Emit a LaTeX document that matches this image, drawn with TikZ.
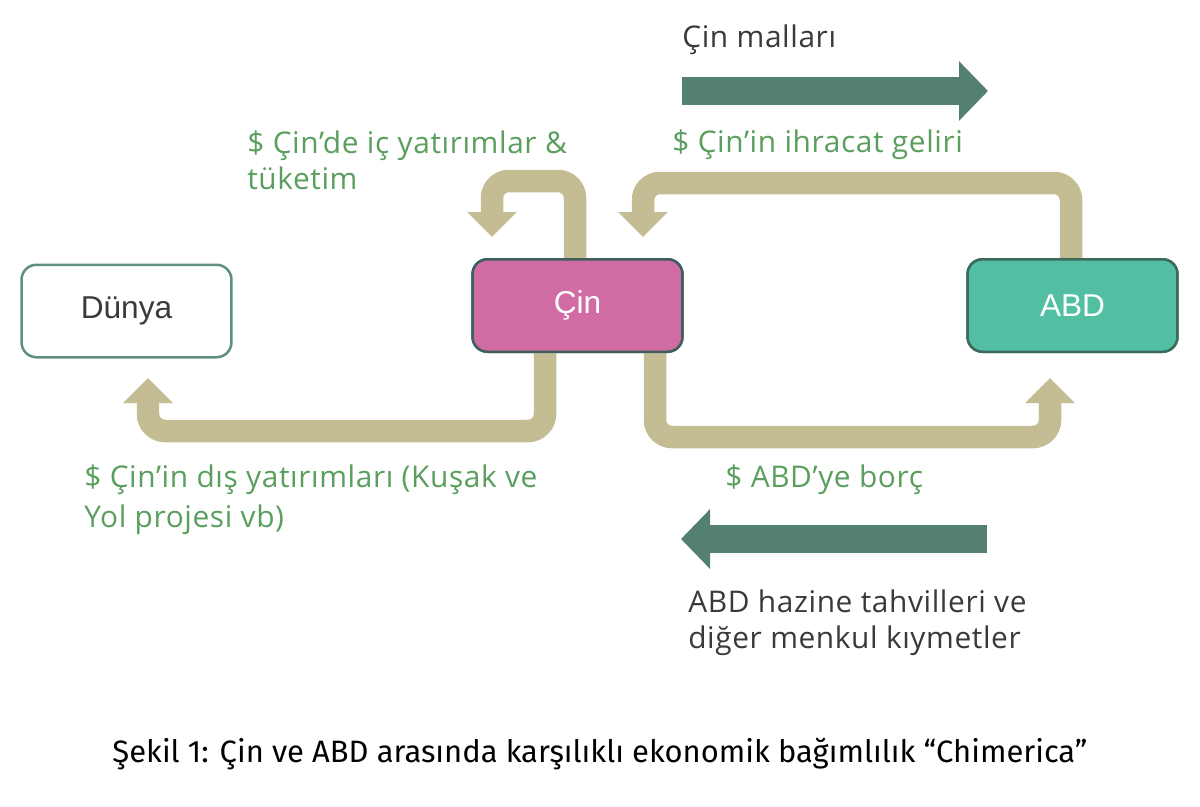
\documentclass[tikz,border=0pt]{standalone}
\usepackage{fontspec}
\setmainfont{Open Sans}[LetterSpace=2]
\newfontfamily\boxfont{Liberation Sans}
\newfontfamily\capfont{Fira Sans}
\usetikzlibrary{arrows.meta}
\definecolor{khaki}{HTML}{C4BD94}
\definecolor{tealarrow}{HTML}{548072}
\definecolor{cinfill}{HTML}{D06BA4}
\definecolor{cinborder}{HTML}{3F5E5E}
\definecolor{abdfill}{HTML}{52BFA2}
\definecolor{abdborder}{HTML}{3D6A5E}
\definecolor{dunyaborder}{HTML}{5F8F80}
\definecolor{greentext}{HTML}{5A9F5E}
\definecolor{darktext}{HTML}{3A3A3A}
\tikzset{
  px/.style={x=0.02cm,y=-0.02cm},
  box/.style={rounded corners=0.3cm, line width=0.05cm, minimum width=4.2cm, minimum height=1.85cm, inner sep=0pt, font=\boxfont\fontsize{18}{20}\selectfont},
  flow/.style={draw=khaki, line width=0.45cm, rounded corners=0.34cm, -{Triangle[width=0.96cm, length=0.5cm]}},
  bigarrow/.style={draw=tealarrow, line width=0.56cm, -{Triangle[width=1.16cm, length=0.58cm]}},
  glabel/.style={text=greentext, font=\fontsize{17}{20.4}\selectfont, align=left, inner sep=0pt, anchor=base west},
  dlabel/.style={text=darktext, font=\fontsize{17}{20.4}\selectfont, align=left, inner sep=0pt, anchor=base west},
}
\begin{document}
\begin{tikzpicture}[px]
\useasboundingbox[fill=white] (0,0) rectangle (1200,806);
% boxes (positions)
\node[box, draw=dunyaborder, fill=white, text=darktext] (dunya) at (126.5,311) {Dünya};
\node[box, draw=cinborder, fill=cinfill, text=white] (cin) at (577.5,305.5) {Çin};
\node[box, draw=abdborder, fill=abdfill, text=white] (abd) at (1072.5,305.5) {ABD};
% khaki flows
\coordinate (aEnd) at (492,237);
\coordinate (bEnd) at (643,237);
\coordinate (cEnd) at (148,378);
\coordinate (dEnd) at (1050,378);
\draw[flow] (575,0 |- cin.north) -- (575,181) -- (492,181) -- (aEnd);
\draw[flow] (1071,0 |- abd.north) -- (1071,183) -- (643,183) -- (bEnd);
\draw[flow] (545,0 |- cin.south) -- (545,431) -- (148,431) -- (cEnd);
\draw[flow] (655,0 |- cin.south) -- (655,437) -- (1050,437) -- (dEnd);
% redraw boxes on top
\node[box, draw=cinborder, fill=cinfill, text=white] at (cin) {Çin};
\node[box, draw=abdborder, fill=abdfill, text=white] at (abd) {ABD};
% teal arrows
\coordinate (goodsStart) at (682,91);
\coordinate (goodsEnd) at (988,91);
\coordinate (bondsStart) at (987,539);
\coordinate (bondsEnd) at (681,539);
\draw[bigarrow] (goodsStart) -- (goodsEnd);
\draw[bigarrow] (bondsStart) -- (bondsEnd);
% labels (multi-line nodes are placed by the baseline of their last line)
\node[dlabel] (lgoods) at (682,47) {Çin malları};
\node[glabel] (lexport) at (672,152) {\$ Çin’in ihracat geliri};
\node[glabel] (ldomestic) at (247,189) {\$ Çin’de iç yatırımlar \&\\tüketim};
\node[glabel, font=\fontsize{17}{22.5}\selectfont] (lforeign) at (84,527) {\$ Çin’in dış yatırımları (Kuşak ve\\Yol projesi vb)};
\node[glabel] (ldebt) at (725,487) {\$ ABD’ye borç};
\node[dlabel] (lbonds) at (688,648) {ABD hazine tahvilleri ve\\diğer menkul kıymetler};
\node[text=black, font=\capfont\fontsize{17.6}{20}\selectfont, inner sep=0pt, anchor=base] (caption) at (600,762) {Şekil 1: Çin ve ABD arasında karşılıklı ekonomik bağımlılık “Chimerica”};
\end{tikzpicture}
\end{document}
